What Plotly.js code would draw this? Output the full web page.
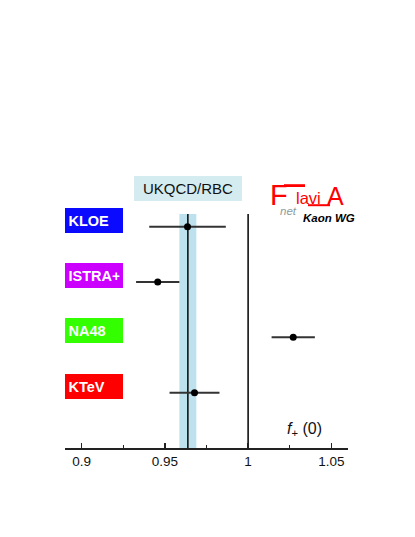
<!DOCTYPE html>
<html>
<head>
<meta charset="utf-8">
<script src="https://cdn.plot.ly/plotly-3.0.1.min.js"></script>
<style>html,body{margin:0;padding:0;background:#fff;}#chart{width:415px;height:537px;}</style>
</head>
<body>
<div id="chart"></div>
<script>
// Data
const experiments = ["KLOE", "ISTRA+", "NA48", "KTeV"];
const expColors = ["#0a0aff", "#cc00ff", "#33ff00", "#ff0000"];
const rowPos = [4, 3, 2, 1];
const fplus = [0.9636, 0.9457, 1.0271, 0.9678];
const fplusErr = [0.0230, 0.0130, 0.0130, 0.0150];
const latticeLabel = "UKQCD/RBC";
const latticeValue = 0.9638;
const latticeErr = 0.0051;
const refValue = 1;
const tickVals = [0.9, 0.95, 1, 1.05];
const tickText = ["0.9", "0.95", "1", "1.05"];

const FONT = "Liberation Sans, Arial, Helvetica, sans-serif";
const W = 415, H = 537;
const M = {l: 65, r: 67, t: 214, b: 89};
const yTop = 4.23;
const plotH = H - M.t - M.b, plotW = W - M.l - M.r;
const px = p => (p - M.l) / plotW;          // pixel -> paper x
const py = p => (H - M.b - p) / plotH;      // pixel -> paper y

const traces = [{
  type: "scatter", mode: "markers",
  x: fplus, y: rowPos,
  error_x: {type: "data", array: fplusErr, visible: true, color: "#333", thickness: 2, width: 0},
  marker: {color: "#000", size: 7},
  hoverinfo: "skip", showlegend: false
}];

const RED = "#ff0000";
const shapes = [
  {type: "rect", xref: "x", yref: "y", x0: latticeValue - latticeErr, x1: latticeValue + latticeErr,
   y0: 0, y1: yTop, fillcolor: "#bee1ee", line: {width: 0}, layer: "below"},
  {type: "line", xref: "x", yref: "y", x0: latticeValue, x1: latticeValue, y0: 0, y1: yTop,
   line: {color: "#111", width: 1.6}, layer: "below"},
  {type: "line", xref: "x", yref: "y", x0: refValue, x1: refValue, y0: 0, y1: yTop,
   line: {color: "#111", width: 1.6}, layer: "below"},
  // logo: long arm of the F and foot of the A
  {type: "line", xref: "paper", yref: "paper", x0: px(284), x1: px(305), y0: py(185.6), y1: py(185.6),
   line: {color: RED, width: 2.8}},
  {type: "line", xref: "paper", yref: "paper", x0: px(308), x1: px(330), y0: py(205.2), y1: py(205.2),
   line: {color: RED, width: 2}}
];

const annotations = [];
experiments.forEach((name, i) => {
  annotations.push({
    xref: "paper", yref: "y", x: 0, y: rowPos[i], xanchor: "left", yanchor: "middle",
    yshift: 6.5, text: "<b>" + name + "</b>", showarrow: false, align: "left",
    width: 51, height: 18, borderpad: 3.5, borderwidth: 0, bgcolor: expColors[i],
    font: {family: FONT, size: 14.5, color: "#fff"}
  });
});
annotations.push({
  xref: "x", yref: "paper", x: latticeValue, y: py(188.2), xanchor: "center", yanchor: "middle",
  text: latticeLabel, showarrow: false, width: 100, height: 17, borderpad: 4, borderwidth: 0,
  bgcolor: "#d4ebef", font: {family: FONT, size: 15, color: "#111"}
});
// f+(0) axis label
annotations.push({
  xref: "paper", yref: "paper", x: px(287), y: py(429.5), xanchor: "left", yanchor: "middle",
  text: "<i>f</i><sub>+</sub> (0)", showarrow: false, borderpad: 0, borderwidth: 0,
  font: {family: FONT, size: 16, color: "#111"}
});
// FlaviaNet logo
const logo = [
  {t: "F", x: 270, yc: 195.0, size: 29, color: RED},
  {t: "lavi", x: 296, yc: 197.8, size: 16.5, color: RED},
  {t: "A", x: 326.5, yc: 195.8, size: 25, color: RED},
  {t: "<i>net</i>", x: 280, yc: 210.8, size: 11.5, color: "#8c9c9c"},
  {t: "<b><i>Kaon WG</i></b>", x: 303, yc: 218.0, size: 11.5, color: "#000"}
];
logo.forEach(o => annotations.push({
  xref: "paper", yref: "paper", x: px(o.x), y: py(o.yc), xanchor: "left", yanchor: "middle",
  text: o.t, showarrow: false, borderpad: 0, borderwidth: 0,
  font: {family: FONT, size: o.size, color: o.color}
}));

const layout = {
  width: W, height: H, margin: M,
  paper_bgcolor: "#fff", plot_bgcolor: "rgba(0,0,0,0)",
  showlegend: false,
  xaxis: {
    range: [0.89, 1.06], tickvals: tickVals, ticktext: tickText,
    ticks: "inside", ticklen: 5, tickwidth: 1.5, tickcolor: "#222",
    minor: {ticks: "inside", ticklen: 3, tickwidth: 1.2, dtick: 0.025, tick0: 0.9, tickcolor: "#222", showgrid: false},
    showline: true, linecolor: "#222", linewidth: 2, showgrid: false, zeroline: false,
    tickfont: {family: FONT, size: 13.5, color: "#111"}, fixedrange: true
  },
  yaxis: {range: [0, yTop], visible: false, showgrid: false, zeroline: false, fixedrange: true},
  shapes: shapes, annotations: annotations
};

Plotly.newPlot("chart", traces, layout, {displayModeBar: false, staticPlot: true});
</script>
</body>
</html>
